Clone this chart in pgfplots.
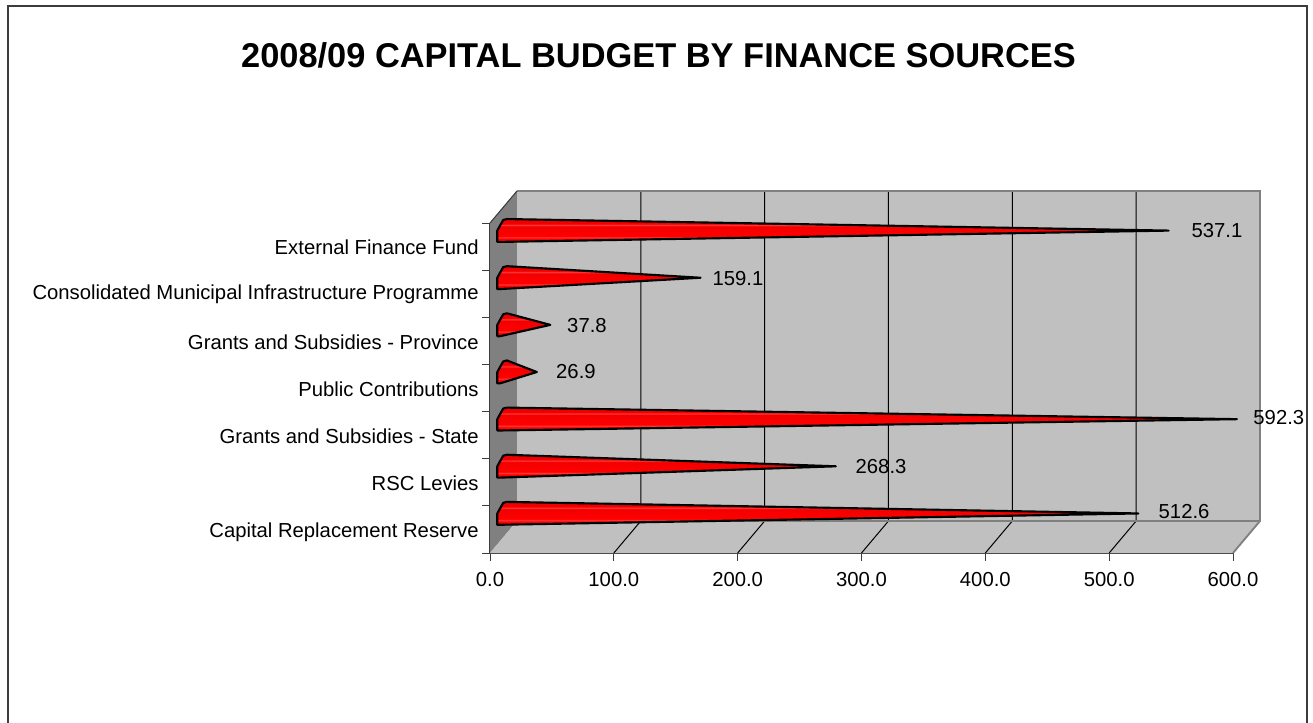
\documentclass[border=0pt]{standalone}
\usepackage{pgfplots}
\usepackage{fontspec}
\setmainfont{Liberation Sans}
\pgfplotsset{compat=1.18}
\definecolor{wallside}{RGB}{128,128,128}
\definecolor{wallback}{RGB}{192,192,192}
\definecolor{axisgray}{RGB}{60,60,60}
\definecolor{conedark}{RGB}{222,0,0}
\definecolor{conemid}{RGB}{242,0,0}
\definecolor{conebright}{RGB}{255,0,0}
\definecolor{conestreak}{RGB}{255,52,52}
% Cone body: dark along the upper edge, bright below, with thin pale streaks
\pgfdeclareverticalshading{conebody}{100bp}{
  color(0bp)=(conebright);
  color(32bp)=(conebright);
  color(35bp)=(conestreak);
  color(38bp)=(conebright);
  color(59bp)=(conemid);
  color(62bp)=(conestreak);
  color(65bp)=(conemid);
  color(83bp)=(conedark);
  color(86bp)=(conestreak);
  color(89bp)=(conedark);
  color(100bp)=(conedark)}
% One cone: blunt base near the left wall, point at value + half the depth
\newcommand{\conebar}[2]{%
  \pgfmathsetmacro{\tipx}{#2+10.9}%
  \pgfmathsetmacro{\tipy}{#1+0.339}%
  \pgfmathsetmacro{\ya}{\tipy}%
  \pgfmathsetmacro{\yb}{\tipy-0.24}%
  \pgfmathsetmacro{\yc}{\tipy+0.10}%
  \pgfmathsetmacro{\yd}{\tipy+0.225}%
  \pgfmathsetmacro{\ye}{\tipy+0.245}%
  \addplot[draw=black,line width=1.6pt,line join=round,shading=conebody,forget plot]
    coordinates {(5.9,\ya) (5.9,\yb) (8.1,\yb) (\tipx,\tipy) (13.7,\ye) (10.7,\yd) (8.0,\yc)} -- cycle;%
}
\pgfplotstableread{
x y label
560.5 0.37 512.6
315.8 1.345 268.3
637.0 2.365 592.3
69.4 3.36 26.9
78.3 4.32 37.8
200.3 5.33 159.1
587.1 6.35 537.1
}\valuelabels
\begin{document}
\begin{tikzpicture}[x=0.75pt,y=0.75pt]
\useasboundingbox (0,0) rectangle (1313,722);
\draw[color=axisgray,line width=1.5pt] (7.5,-5) -- (7.5,715.5) -- (1306.5,715.5) -- (1306.5,-5);
\node[font=\bfseries\fontsize{25.8pt}{30pt}\selectfont,anchor=center] at (658.5,667) {2008/09 CAPITAL BUDGET BY FINANCE SOURCES};
\begin{axis}[
  at={(367.5pt,126.75pt)},anchor=south west,
  scale only axis,width=557.25pt,height=247.5pt,
  xmin=0,xmax=600,ymin=-0.5,ymax=6.5,
  clip=false,
  axis x line*=bottom,axis y line*=left,
  xtick pos=bottom,ytick pos=left,
  xtick align=outside,ytick align=outside,
  axis line style={-,color=axisgray,line width=0.8pt},
  xtick={0,100,...,600},
  /pgf/number format/fixed,
  /pgf/number format/fixed zerofill,
  /pgf/number format/precision=1,
  /pgf/number format/assume math mode=true,
  ytick={0,...,6},
  yticklabels={Capital Replacement Reserve,RSC Levies,Grants and Subsidies - State,Public Contributions,Grants and Subsidies - Province,\raisebox{2.2pt}{Consolidated Municipal Infrastructure Programme},External Finance Fund},
  xtick style={draw=axisgray,line width=0.7pt},
  ytick style={draw=none},
  major tick length=6pt,
  tick label style={font=\fontsize{15.2pt}{18pt}\selectfont,text=black},
  yticklabel style={anchor=east,xshift=1pt,yshift=-2.2pt,text height=11pt,text depth=3pt},
  xticklabel style={yshift=-5pt},
]
% Left wall, floor and back wall of the box
\addplot[fill=wallside,draw=none,forget plot] coordinates {(0,-0.5) (21.8,0.179) (21.8,7.179) (0,6.5)} -- cycle;
\addplot[fill=wallback,draw=none,forget plot] coordinates {(21.8,0.179) (621.8,0.179) (621.8,7.179) (21.8,7.179)} -- cycle;
\addplot[fill=wallback,draw=none,forget plot] coordinates {(0,-0.5) (600,-0.5) (621.8,0.179) (21.8,0.179)} -- cycle;
% Gridlines running up the back wall and across the floor
\pgfplotsinvokeforeach{100,200,300,400,500}{
  \pgfmathsetmacro{\gx}{#1+21.8}
  \addplot[color=black,line width=0.75pt,forget plot] coordinates {(#1,-0.5) (\gx,0.179) (\gx,7.179)};
}
% Box edges
\addplot[color=wallside,line width=1.4pt,forget plot] coordinates {(21.8,7.179) (621.8,7.179) (621.8,0.179) (600,-0.5)};
\addplot[color=wallside,line width=1.4pt,forget plot] coordinates {(21.8,0.179) (621.8,0.179)};
\addplot[color=axisgray,line width=0.8pt,forget plot] coordinates {(0,6.5) (21.8,7.179)};
% Ticks between the categories on the vertical axis
\pgfplotsinvokeforeach{-0.5,0.5,1.5,2.5,3.5,4.5,5.5,6.5}{
  \addplot[color=axisgray,line width=0.7pt,forget plot] coordinates {(-6.46,#1) (0,#1)};
}
% Cones, one per finance source
\conebar{0}{512.6}
\conebar{1}{268.3}
\conebar{2}{592.3}
\conebar{3}{26.9}
\conebar{4}{37.8}
\conebar{5}{159.1}
\conebar{6}{537.1}
% Value labels
\addplot[only marks,mark=none,
  nodes near coords,point meta=explicit symbolic,
  nodes near coords style={anchor=center,font=\fontsize{15.2pt}{18pt}\selectfont,text=black,inner sep=0pt},
  forget plot] table[x=x,y=y,meta=label] {\valuelabels};
\end{axis}
\end{tikzpicture}
\end{document}
